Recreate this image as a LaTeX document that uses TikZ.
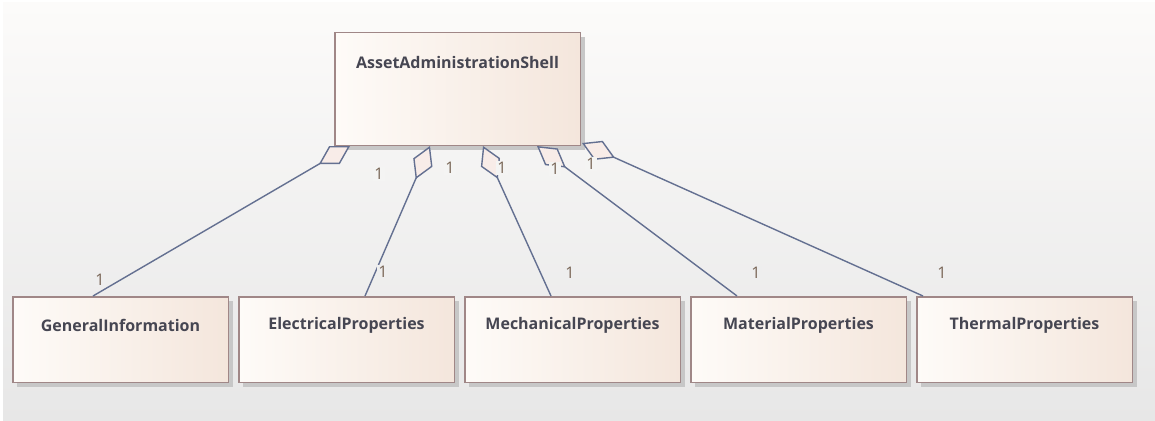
\documentclass[tikz,border=0pt]{standalone}
\usepackage{fontspec}
\setmainfont{Open Sans}
\usetikzlibrary{arrows.meta,shadows}

\definecolor{bgtop}{RGB}{252,251,250}
\definecolor{bgbot}{RGB}{231,231,231}
\definecolor{boxl}{RGB}{254,251,248}
\definecolor{boxr}{RGB}{244,230,220}
\definecolor{boxedge}{RGB}{160,135,135}
\definecolor{wire}{RGB}{100,112,145}
\definecolor{dfill}{RGB}{248,236,232}
\definecolor{numc}{RGB}{120,100,85}
\definecolor{namec}{RGB}{70,70,82}
\definecolor{labtop}{RGB}{244,244,243}
\definecolor{labbot}{RGB}{238,238,238}

\tikzset{agg/.tip={Diamond[length=36pt,width=21pt,fill=dfill]}}

\begin{document}
\begin{tikzpicture}[x=1pt,y=-1pt,
  cls/.style={draw=boxedge, line width=1.5pt, left color=boxl, right color=boxr,
    drop shadow={shadow xshift=4.5pt, shadow yshift=-4.5pt, fill=black!22, opacity=1},
    inner sep=0pt},
  clsname/.style={anchor=center, yshift=-29pt, text=namec,
    font=\bfseries\fontsize{16}{19}\selectfont},
  part/.style={cls, minimum width=215.5pt, minimum height=85.5pt},
  assoc/.style={draw=wire, line width=1.4pt, agg-},
  num/.style={text=numc, inner sep=1pt, font=\fontsize{16}{19}\selectfont},
  numtop/.style={num, fill=labtop},
  numbot/.style={num, fill=labbot}]

  % canvas
  \useasboundingbox (0,0) rectangle (1155,420);
  \fill[white] (0,0) rectangle (1155,420);
  \shade[top color=bgtop, bottom color=bgbot] (3,3) rectangle (1155,420);

  % classes
  \node[cls, minimum width=245.5pt, minimum height=112.5pt,
        label={[clsname, yshift=-1pt]north:AssetAdministrationShell}] (aas) at (457.5,89) {};
  \node[part, label={[clsname]north:GeneralInformation}]   (gi)  at (120.5,339.5) {};
  \node[part, label={[clsname]north:ElectricalProperties}] (el)  at (346.5,339.5) {};
  \node[part, label={[clsname]north:MechanicalProperties}] (me)  at (572.5,339.5) {};
  \node[part, label={[clsname]north:MaterialProperties}]   (ma)  at (798.5,339.5) {};
  \node[part, label={[clsname]north:ThermalProperties}]    (th)  at (1024.5,339.5) {};

  % aggregations
  \draw[assoc] ([xshift=16pt]aas.south west)  -- ([xshift=81pt]gi.north west);
  \draw[assoc] ([xshift=96pt]aas.south west)  -- ([xshift=127pt]el.north west);
  \draw[assoc] ([xshift=149pt]aas.south west) -- ([xshift=87pt]me.north west);
  \draw[assoc] ([xshift=203pt]aas.south west) -- ([xshift=47pt]ma.north west);
  \draw[assoc] ([xshift=1pt,yshift=3pt]aas.south east) -- ([xshift=7pt]th.north west);

  % multiplicities
  \node[numtop] (m1a) at (379,174) {1};
  \node[numtop] (m2a) at (450,168) {1};
  \node[numtop] (m3a) at (502,168) {1};
  \node[numtop] (m4a) at (555,169) {1};
  \node[numtop] (m5a) at (591,164) {1};
  \node[numbot] (m1b) at (100,280) {1};
  \node[numbot] (m2b) at (383,272) {1};
  \node[numbot] (m3b) at (570,273) {1};
  \node[numbot] (m4b) at (756,273) {1};
  \node[numbot] (m5b) at (942,273) {1};
\end{tikzpicture}
\end{document}
